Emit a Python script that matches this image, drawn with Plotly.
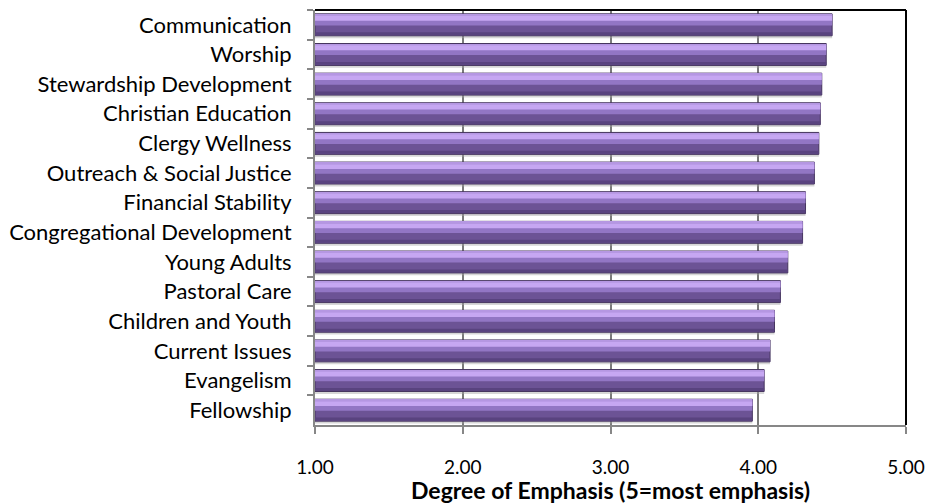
import plotly.graph_objects as go

categories = ["Communication", "Worship", "Stewardship Development", "Christian Education",
              "Clergy Wellness", "Outreach & Social Justice", "Financial Stability",
              "Congregational Development", "Young Adults", "Pastoral Care",
              "Children and Youth", "Current Issues", "Evangelism", "Fellowship"]
values = [4.50, 4.46, 4.43, 4.42, 4.41, 4.38, 4.32, 4.30, 4.20, 4.15, 4.11, 4.08, 4.04, 3.96]
tick_vals = [1, 2, 3, 4, 5]
tick_text = ["1.00", "2.00", "3.00", "4.00", "5.00"]
x_title = "Degree of Emphasis (5=most emphasis)"

FONT = "Lato"
BASE = 1.0
H = 0.37  # half bar thickness (category units)
lengths = [v - BASE for v in values]


def layer(offset, width, color, line=None):
    return go.Bar(y=categories, x=lengths, base=BASE, orientation="h",
                  width=width, offset=offset,
                  marker=dict(color=color, line=line or dict(width=0)),
                  hoverinfo="skip")


fig = go.Figure()
fig.add_trace(layer(-H + 0.08, 2 * H, "rgba(165,165,165,0.45)"))                    # shadow
fig.add_trace(layer(-H, 2 * H, "#6C5395", dict(color="#46355F", width=1)))            # body
fig.add_trace(layer(-H + 0.02, 0.37, "#9276C4"))                                     # upper medium
fig.add_trace(layer(-H + 0.02, 0.05, "#B597E2"))                                     # top edge
fig.add_trace(layer(-H + 0.07, 0.16, "#C6A7F2"))                                     # highlight
fig.add_trace(layer(H - 0.12, 0.10, "#59437F"))                                      # lower shade

fig.update_layout(
    width=930, height=504,
    margin=dict(l=315, r=24, t=10, b=79),
    barmode="overlay",
    showlegend=False,
    paper_bgcolor="white", plot_bgcolor="white",
    font=dict(family=FONT, size=22, color="#000000"),
    xaxis=dict(range=[1, 5], tickvals=tick_vals, ticktext=tick_text,
               showgrid=True, gridcolor="#7A7A7A", gridwidth=2,
               showline=True, linecolor="#878787", linewidth=2,
               ticks="outside", ticklen=7, tickcolor="#878787", tickwidth=2,
               tickfont=dict(family=FONT, size=19), ticklabelstandoff=17,
               title=dict(text="<b>" + x_title + "</b>", font=dict(family=FONT, size=23), standoff=4),
               zeroline=False, fixedrange=True, automargin=False),
    yaxis=dict(categoryorder="array", categoryarray=categories, autorange="reversed",
               showline=True, linecolor="#878787", linewidth=2,
               ticks="outside", ticklen=6, tickcolor="#878787", tickwidth=2, tickson="boundaries",
               tickfont=dict(family=FONT, size=22), ticklabelstandoff=17,
               showgrid=False, fixedrange=True, automargin=False),
    shapes=[
        dict(type="line", xref="paper", yref="paper", x0=0, x1=1, y0=1, y1=1,
             line=dict(color="black", width=2)),
        dict(type="line", xref="paper", yref="paper", x0=1, x1=1, y0=0, y1=1,
             line=dict(color="black", width=2)),
    ],
)

fig.write_html("out.html", config={"displayModeBar": False},
               post_script="document.body.style.margin='0px';"
                           "document.body.style.overflow='hidden';"
                           "document.documentElement.style.overflow='hidden';")
